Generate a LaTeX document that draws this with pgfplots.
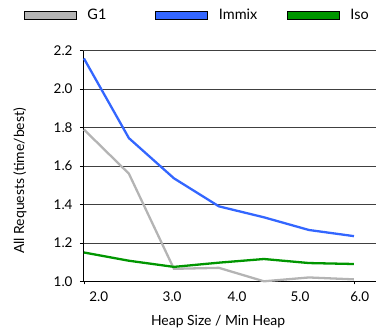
\documentclass[border=0pt]{standalone}
\usepackage{pgfplots}
\pgfplotsset{compat=1.18}
\usepackage{fontspec}
\setmainfont{Lato}
\definecolor{cG}{RGB}{180,180,180}
\definecolor{cI}{RGB}{51,102,255}
\definecolor{cS}{RGB}{0,150,0}
\begin{document}
\begin{tikzpicture}
\path[use as bounding box] (-83bp,-52.7bp) rectangle (294bp,281.3bp);
\begin{axis}[
  at={(0,0)}, anchor=south west,
  scale only axis,
  width=293bp, height=230.6bp,
  xmin=-0.02, xmax=6.49,
  ymin=1.0, ymax=2.2,
  axis lines=left,
  axis line style={-, black, line width=0.8pt},
  ytick={1.0,1.2,1.4,1.6,1.8,2.0,2.2},
  yticklabels={1.0,1.2,1.4,1.6,1.8,2.0,2.2},
  ymajorgrids,
  grid style={black!75, line width=0.6pt},
  tick align=outside,
  major tick length=3bp,
  tick style={black, line width=0.6pt},
  xtick={0,6},
  xticklabels={,},
  extra x ticks={0.33,1.96,3.4,4.8,6.13},
  extra x tick labels={2.0,3.0,4.0,5.0,6.0},
  extra x tick style={major tick length=0pt, grid=none,
    xticklabel style={anchor=base, yshift=-20.4bp}},
  ticklabel style={font=\fontsize{13.5}{15}\selectfont},
  yticklabel style={xshift=-4bp},
  xlabel={Heap Size / Min Heap},
  ylabel={All Requests (time/best)},
  label style={font=\fontsize{14}{16}\selectfont},
  xlabel style={at={(axis description cs:0.461,-0.1765)}, anchor=center},
  ylabel style={at={(axis description cs:-0.215,0.435)}, anchor=center},
  clip=false,
  legend columns=3,
  legend style={draw=none, fill=none, inner sep=0pt, outer sep=0pt,
    at={(axis description cs:-0.2014,1.1548)}, anchor=west,
    font=\fontsize{14.5}{16}\selectfont,
    nodes={inner sep=0pt},
    /tikz/every odd column/.append style={column sep=11bp},
    /tikz/every even column/.append style={column sep=0bp}},
  legend image code/.code={\draw[#1, draw=black, line width=0.5pt, fill] (0bp,-4bp) rectangle (52bp,4bp);},
]
\addplot[color=cG, line width=2.3pt] coordinates {(0,1.79) (1,1.56) (2,1.065) (3,1.07) (4,1.0) (5,1.02) (6,1.01)};
\addlegendentry{\makebox[68bp][l]{G1}}
\addplot[color=cI, line width=2.3pt] coordinates {(0,2.16) (1,1.745) (2,1.536) (3,1.39) (4,1.333) (5,1.267) (6,1.235)};
\addlegendentry{\makebox[68bp][l]{Immix}}
\addplot[color=cS, line width=2.3pt] coordinates {(0,1.15) (1,1.107) (2,1.075) (3,1.097) (4,1.116) (5,1.095) (6,1.09)};
\addlegendentry{Iso}
\end{axis}
\end{tikzpicture}
\end{document}
